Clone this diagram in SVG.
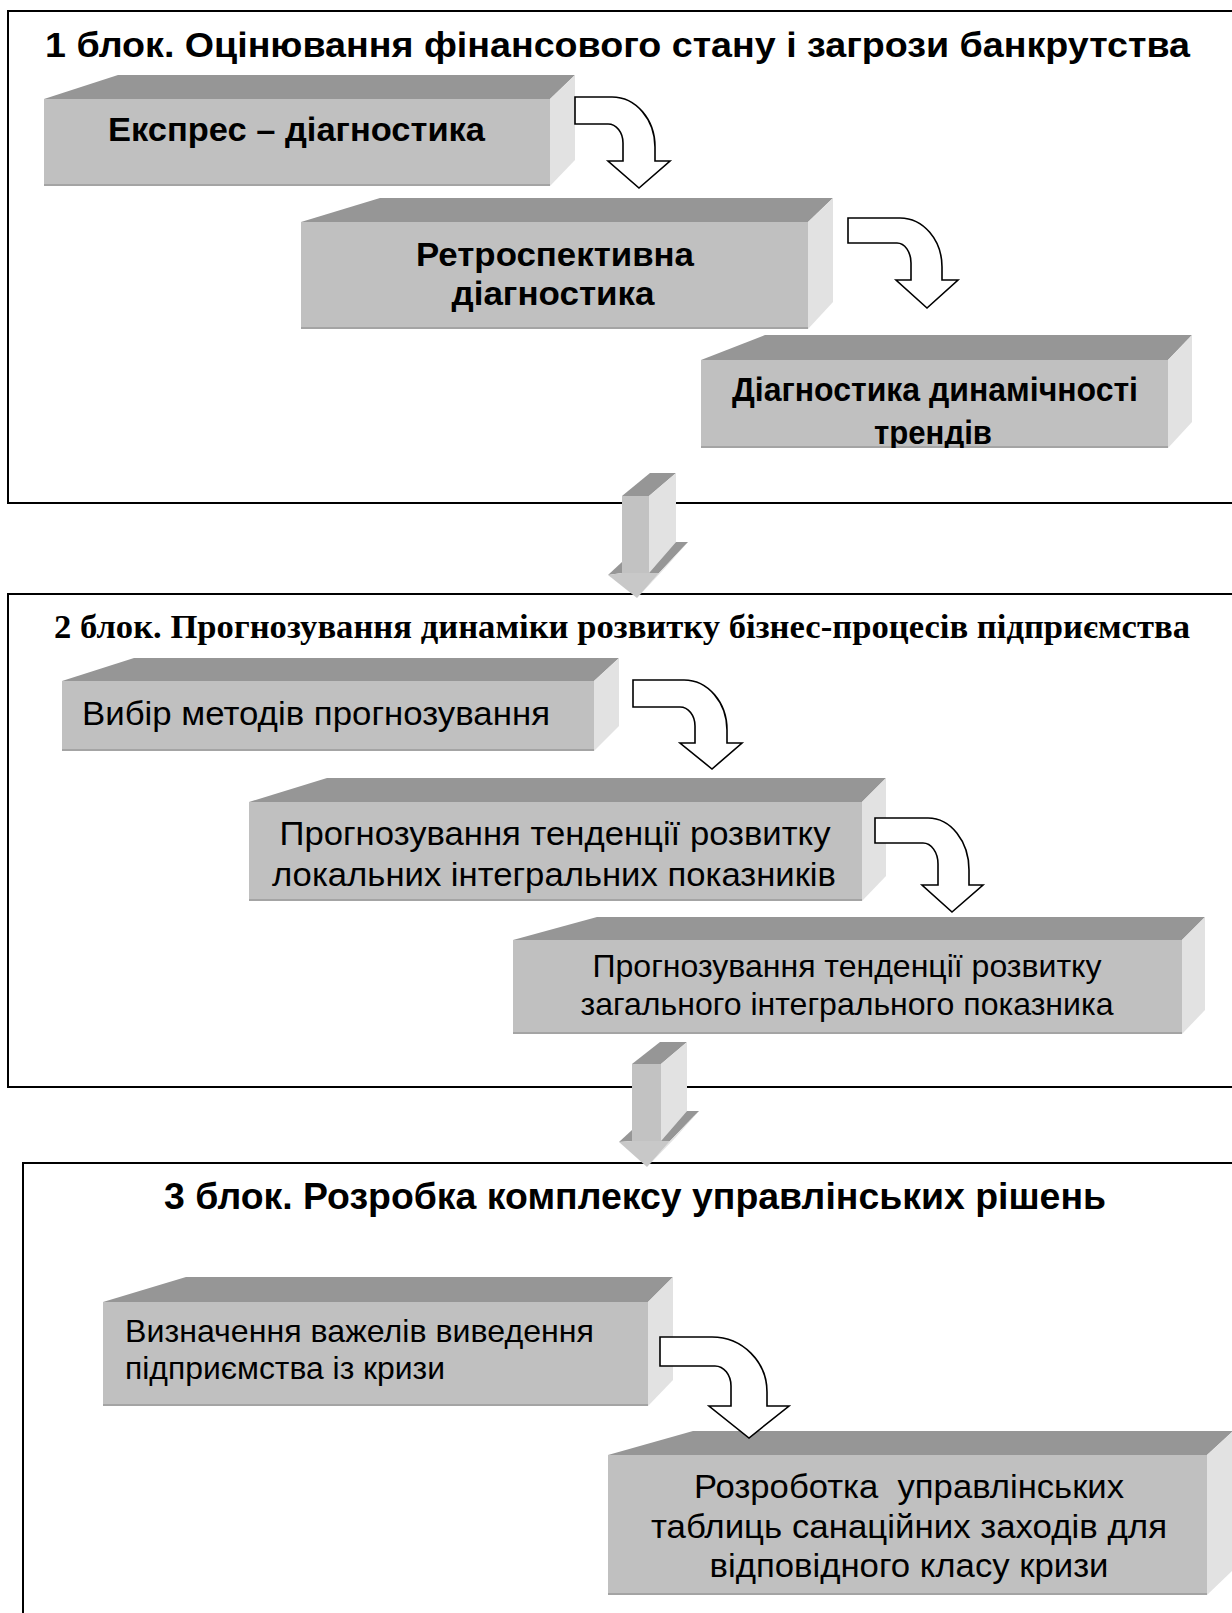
<svg xmlns="http://www.w3.org/2000/svg" width="1232" height="1613" viewBox="0 0 1232 1613">
<defs>
<style>
.frame{fill:none;stroke:#000;stroke-width:2}
.top{fill:#969696}
.front{fill:#C0C0C0}
.side{fill:#E2E2E2}
.edge{stroke:#A4A4A4;stroke-width:2}
.bend{fill:#fff;stroke:#000;stroke-width:1.6;stroke-linejoin:miter}
.ttl{font-family:"Liberation Sans",Arial,sans-serif;font-weight:bold;fill:#000}
.ttl2{font-family:"Liberation Serif","Times New Roman",serif;font-weight:bold;fill:#000}
.bt{font-family:"Liberation Sans",Arial,sans-serif;font-weight:bold;fill:#000}
.rt{font-family:"Liberation Sans",Arial,sans-serif;fill:#000}
.afront{fill:#C2C2C2}
.ahead{fill:#C8C8C8}
</style>
<clipPath id="clip3"><rect x="701" y="360" width="467" height="88"/></clipPath>
</defs>

<g id="block1">
<rect class="frame" x="8" y="11" width="1240" height="492"/>
<text class="ttl" x="45" y="57" font-size="35" textLength="1145" lengthAdjust="spacingAndGlyphs">1 блок. Оцінювання фінансового стану і загрози банкрутства</text>
</g>
<g id="block2">
<rect class="frame" x="8" y="594" width="1240" height="493"/>
<text class="ttl2" x="54" y="638" font-size="33" textLength="1136" lengthAdjust="spacingAndGlyphs">2 блок. Прогнозування динаміки розвитку бізнес-процесів підприємства</text>
</g>
<g id="block3">
<rect class="frame" x="23" y="1163" width="1240" height="500"/>
<text class="ttl" x="164" y="1209" font-size="36" textLength="942" lengthAdjust="spacingAndGlyphs">3 блок. Розробка комплексу управлінських рішень</text>
</g>

<g id="box1">
<path class="top" d="M44,99 L118,75 L575,75 L550,99 Z"/>
<path class="side" d="M550,99 L575,75 L575,160 L550,186 Z"/>
<rect class="front" x="44" y="99" width="506" height="87"/>
<line class="edge" x1="44" y1="185" x2="550" y2="185"/>
<text class="bt" x="108" y="141" font-size="33" textLength="377" lengthAdjust="spacingAndGlyphs">Експрес – діагностика</text>
</g>
<g id="box2">
<path class="top" d="M301,222 L380,198 L833,198 L808,222 Z"/>
<path class="side" d="M808,222 L833,198 L833,302 L808,329 Z"/>
<rect class="front" x="301" y="222" width="507" height="107"/>
<line class="edge" x1="301" y1="328" x2="808" y2="328"/>
<text class="bt" x="555" y="266" font-size="33" text-anchor="middle" textLength="278" lengthAdjust="spacingAndGlyphs">Ретроспективна</text>
<text class="bt" x="553" y="305" font-size="33" text-anchor="middle" textLength="203" lengthAdjust="spacingAndGlyphs">діагностика</text>
</g>
<g id="box3">
<path class="top" d="M701,360 L765,335 L1192,335 L1168,360 Z"/>
<path class="side" d="M1168,360 L1192,335 L1192,422 L1168,448 Z"/>
<rect class="front" x="701" y="360" width="467" height="88"/>
<line class="edge" x1="701" y1="447" x2="1168" y2="447"/>
<g clip-path="url(#clip3)">
<text class="bt" x="935" y="401" font-size="33" text-anchor="middle" textLength="406" lengthAdjust="spacingAndGlyphs">Діагностика динамічності</text>
<text class="bt" x="933" y="444" font-size="33" text-anchor="middle" textLength="118" lengthAdjust="spacingAndGlyphs">трендів</text>
</g>
</g>

<g id="box2a">
<path class="top" d="M62,681 L134,658 L619,658 L594,681 Z"/>
<path class="side" d="M594,681 L619,658 L619,726 L594,751 Z"/>
<rect class="front" x="62" y="681" width="532" height="70"/>
<line class="edge" x1="62" y1="750" x2="594" y2="750"/>
<text class="rt" x="82" y="725" font-size="34" textLength="468" lengthAdjust="spacingAndGlyphs">Вибір методів прогнозування</text>
</g>
<g id="box2b">
<path class="top" d="M249,802 L327,778 L886,778 L862,802 Z"/>
<path class="side" d="M862,802 L886,778 L886,876 L862,901 Z"/>
<rect class="front" x="249" y="802" width="613" height="99"/>
<line class="edge" x1="249" y1="900" x2="862" y2="900"/>
<text class="rt" x="555" y="845" font-size="34" text-anchor="middle" textLength="551" lengthAdjust="spacingAndGlyphs">Прогнозування тенденції розвитку</text>
<text class="rt" x="554" y="886" font-size="34" text-anchor="middle" textLength="564" lengthAdjust="spacingAndGlyphs">локальних інтегральних показників</text>
</g>
<g id="box2c">
<path class="top" d="M513,940 L597,917 L1205,917 L1182,940 Z"/>
<path class="side" d="M1182,940 L1205,917 L1205,1010 L1182,1034 Z"/>
<rect class="front" x="513" y="940" width="669" height="94"/>
<line class="edge" x1="513" y1="1033" x2="1182" y2="1033"/>
<text class="rt" x="847" y="977" font-size="32" text-anchor="middle" textLength="509" lengthAdjust="spacingAndGlyphs">Прогнозування тенденції розвитку</text>
<text class="rt" x="847" y="1015" font-size="32" text-anchor="middle" textLength="533" lengthAdjust="spacingAndGlyphs">загального інтегрального показника</text>
</g>

<g id="box3a">
<path class="top" d="M103,1302 L186,1277 L673,1277 L648,1302 Z"/>
<path class="side" d="M648,1302 L673,1277 L673,1380 L648,1406 Z"/>
<rect class="front" x="103" y="1302" width="545" height="104"/>
<line class="edge" x1="103" y1="1405" x2="648" y2="1405"/>
<text class="rt" x="125" y="1342" font-size="32" textLength="469" lengthAdjust="spacingAndGlyphs">Визначення важелів виведення</text>
<text class="rt" x="125" y="1379" font-size="32" textLength="320" lengthAdjust="spacingAndGlyphs">підприємства із кризи</text>
</g>
<g id="box3b">
<path class="top" d="M608,1455 L693,1431 L1233,1431 L1207,1455 Z"/>
<path class="side" d="M1207,1455 L1233,1431 L1233,1570 L1207,1595 Z"/>
<rect class="front" x="608" y="1455" width="599" height="140"/>
<line class="edge" x1="608" y1="1594" x2="1207" y2="1594"/>
<text class="rt" x="909" y="1498" font-size="34" text-anchor="middle" textLength="430" lengthAdjust="spacingAndGlyphs" xml:space="preserve">Розроботка  управлінських</text>
<text class="rt" x="909" y="1538" font-size="34" text-anchor="middle" textLength="516" lengthAdjust="spacingAndGlyphs">таблиць санаційних заходів для</text>
<text class="rt" x="909" y="1577" font-size="34" text-anchor="middle" textLength="399" lengthAdjust="spacingAndGlyphs">відповідного класу кризи</text>
</g>

<g id="connectors">
<path class="bend" d="M575,97 H612 A43,50 0 0 1 655,147 V161 H670 L639,188 L608,161 H623 V143 A15,19 0 0 0 608,124 H575 Z"/>
<path class="bend" d="M848,218 H900 A42,49 0 0 1 942,267 V280 H958 L927,308 L896,280 H911 V263 A14,20 0 0 0 897,243 H848 Z"/>
<path class="bend" d="M633,680 H684 A43,50 0 0 1 727,730 V743 H742 L712,769 L680,743 H695 V726 A15,19 0 0 0 680,707 H633 Z"/>
<path class="bend" d="M875,818 H928 A41,52 0 0 1 969,870 V885 H983 L952,912 L922,885 H938 V864 A15,21 0 0 0 923,843 H875 Z"/>
<path class="bend" d="M660,1337 H712 A55,55 0 0 1 767,1392 V1406 H789 L749,1438 L709,1406 H731 V1386 A16,20 0 0 0 715,1366 H660 Z"/>

<g id="bigArrow1">
<path class="top" d="M622,496 L650,473 L676,473 L649,496 Z"/>
<path class="side" d="M649,496 L676,473 L676,542 L649,573 Z"/>
<path class="top" d="M649,573 L659,573 L688,542 L676,542 Z"/>
<path class="side" d="M659,573 L688,542 L666,567 L637,598 Z"/>
<path class="top" d="M608,575 L622,562 L622,573 Z"/>
<path class="ahead" d="M608,575 L622,573 L649,573 L659,573 L637,598 Z"/>
<rect class="afront" x="622" y="496" width="27" height="77"/>
</g>
<g id="bigArrow2">
<path class="top" d="M632,1064 L660,1042 L687,1042 L661,1064 Z"/>
<path class="side" d="M661,1064 L687,1042 L687,1111 L661,1141 Z"/>
<path class="top" d="M661,1141 L670,1141 L699,1111 L687,1111 Z"/>
<path class="side" d="M670,1141 L699,1111 L676,1137 L647,1167 Z"/>
<path class="top" d="M619,1142 L632,1130 L632,1141 Z"/>
<path class="ahead" d="M619,1142 L632,1141 L661,1141 L670,1141 L647,1167 Z"/>
<rect class="afront" x="632" y="1064" width="29" height="77"/>
</g>
</g>
</svg>
